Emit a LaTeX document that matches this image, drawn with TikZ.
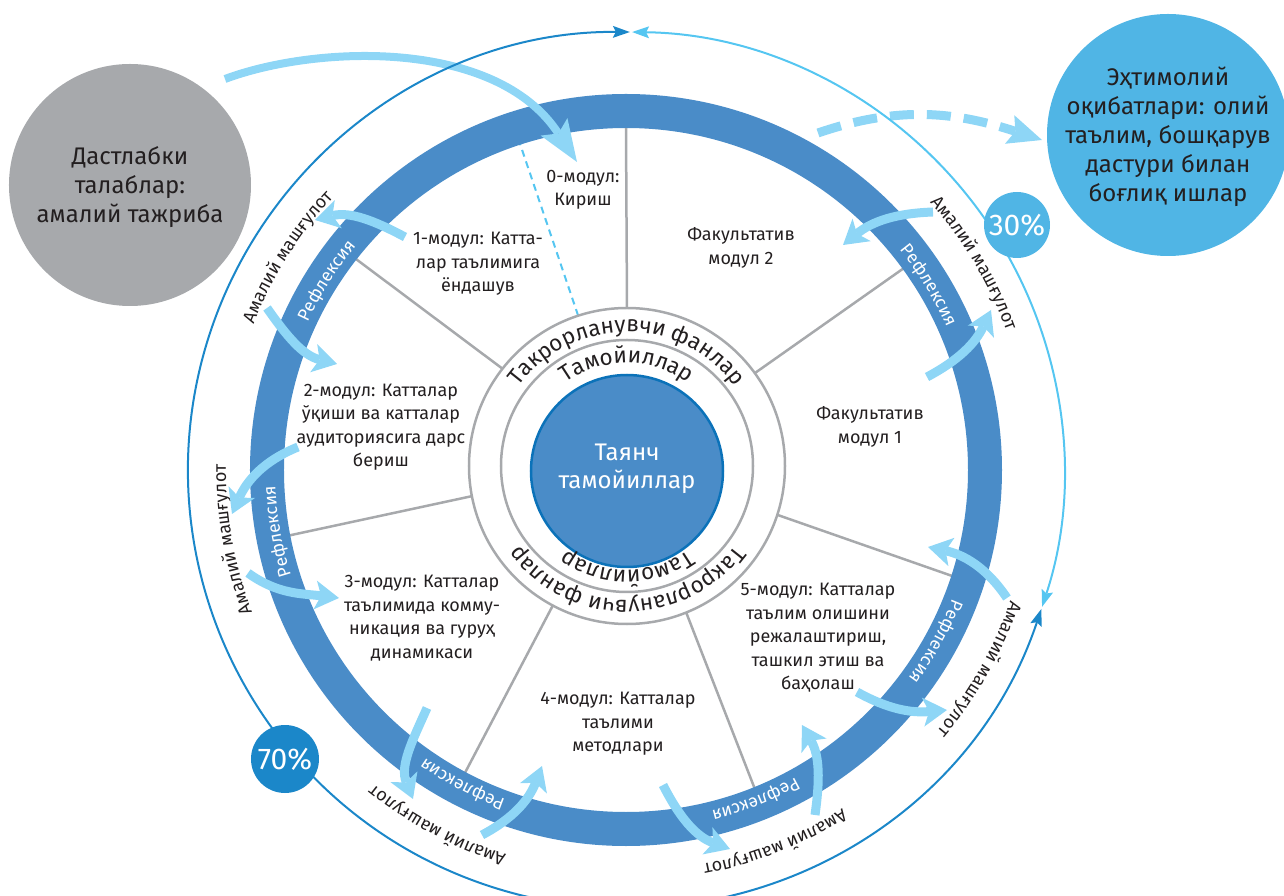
\documentclass[tikz,border=0pt]{standalone}
\usepackage{fontspec}
\setmainfont{Fira Sans}
\usetikzlibrary{arrows.meta,decorations.text,calc}
\definecolor{ringblue}{HTML}{4A8CC8}
\definecolor{coreedge}{HTML}{0B72B9}
\definecolor{darkline}{HTML}{1B87C9}
\definecolor{lightline}{HTML}{55C6F1}
\definecolor{arrowblue}{HTML}{8ED6F6}
\definecolor{bubble}{HTML}{50B5E5}
\definecolor{greyc}{HTML}{A7A9AC}
\definecolor{ink}{HTML}{231F20}
\newcommand\modfont{\fontsize{18}{23.5}\selectfont}
\newcommand\amfont{\fontsize{18}{22}\selectfont\color{ink}}
\newcommand\reffont{\fontsize{17.5}{22}\selectfont\color{white}}
\newcommand\cenfont{\fontsize{22.5}{26}\selectfont\color{ink}}
\begin{document}
\begin{tikzpicture}[x=1pt,y=1pt,
  lbarrow/.style={draw=arrowblue, line width=9pt, -{Stealth[length=24pt,width=29pt,inset=6pt,line width=0pt]}},
  bigarrow/.style={draw=arrowblue, line width=8pt, -{Stealth[length=42pt,width=32pt,inset=8pt,line width=0pt]}},
  dasharrow/.style={draw=arrowblue, line width=9pt, dash pattern=on 24pt off 13pt, -{Stealth[length=34pt,width=30pt,inset=6pt,line width=0pt]}},
  spoke/.style={draw=greyc, line width=2.5pt},
  modtext/.style={font=\modfont, text=ink, align=center, inner sep=0pt},
  thinarrow/.style={line width=2pt, {Stealth[length=17pt,width=12pt,inset=3pt,line width=0pt]}-{Stealth[length=17pt,width=12pt,inset=3pt,line width=0pt]}},
  bigtext/.style={font=\fontsize{24}{29}\selectfont, text=ink, align=center, inner sep=0pt},
  pct/.style={circle, minimum size=#1, inner sep=0pt, text=white, font=\fontsize{30}{32}\selectfont},
]
\useasboundingbox (-626,-426) rectangle (658,470);
\coordinate (O) at (0,0);
\coordinate (G) at (1,4);
% spokes
\foreach \a in {90,142,191,242,292,342,36}
  \draw[spoke] ($(G)+(\a:158pt)$) -- (\a:343pt);
\draw[lightline, line width=2pt, dash pattern=on 7pt off 5pt] ($(G)+(108:158pt)$) -- (108:343pt);
% thick ring
\draw[ringblue, line width=34pt] (O) circle[radius=359pt];
% grey rings and core
\draw[greyc, line width=2.5pt] (G) circle[radius=158pt];
\draw[greyc, line width=2.5pt] (G) circle[radius=126pt];
\draw[coreedge, fill=ringblue, line width=2.5pt] (1,-1) circle[radius=96pt];
\node[font=\fontsize{24}{28}\selectfont, text=white, align=center] (core) at (1,1) {Таянч\\тамойиллар};
\begin{scope}[shift={(G)}]
\path[decorate, decoration={text along path, text={|\cenfont|Такрорланувчи фанлар}, text align=center}] (165:134pt) arc[start angle=165, end angle=15, radius=134pt];
\path[decorate, decoration={text along path, text={|\cenfont|Такрорланувчи фанлар}, text align=center}] (-15:134pt) arc[start angle=-15, end angle=-165, radius=134pt];
\path[decorate, decoration={text along path, text={|\cenfont|Тамойиллар}, text align=center}] (160:103pt) arc[start angle=160, end angle=20, radius=103pt];
\path[decorate, decoration={text along path, text={|\cenfont|Тамойиллар}, text align=center}] (-20:104pt) arc[start angle=-20, end angle=-160, radius=104pt];
\end{scope}
% ring labels
\foreach \a in {147.7,190,242.5,291.5,331,31.4}
  \path[decorate, decoration={text along path, text={|\reffont|Рефлексия}, text align=center}] (\a+30:351pt) arc[start angle=\a+30, end angle=\a-30, radius=351pt];
\foreach \a/\r in {147.8/400,190/400,242/403,291.8/402,330.6/406,30.7/405}
  \path[decorate, decoration={text along path, text={|\amfont|Амалий машғулот}, text align=center}] (\a+30:\r pt) arc[start angle=\a+30, end angle=\a-30, radius=\r pt];
% module texts
\node[modtext] (m0) at (-43,280) {0-модул:\\Кириш};
\node[modtext] (f2) at (115,222) {Факультатив\\модул 2};
\node[modtext] (m1) at (-148,206) {1-модул: Катта-\\лар таълимига\\ёндашув};
\node[modtext] (m2) at (-245,43) {2-модул: Катталар\\ўқиши ва катталар\\аудиториясига дарс\\бериш};
\node[modtext] (f1) at (244,43) {Факультатив\\модул 1};
\node[modtext] (m3) at (-204,-148) {3-модул: Катталар\\таълимида комму-\\никация ва гуруҳ\\динамикаси};
\node[modtext] (m4) at (-8,-254) {4-модул: Катталар\\таълими\\методлари};
\node[modtext] (m5) at (192,-168) {5-модул: Катталар\\таълим олишини\\режалаштириш,\\ташкил этиш ва\\баҳолаш};
% light arrows
\draw[lbarrow] (-221,233) to[out=152,in=14] (-311,250);
\draw[lbarrow] (-359,162) to[out=-55,in=166] (-289,106);
\draw[lbarrow] (-328,23) to[out=202,in=66] (-394,-44);
\draw[lbarrow] (-378,-103) to[out=-36,in=173] (-287,-128);
\draw[lbarrow] (-199,-238) to[out=246,in=112] (-213,-329);
\draw[lbarrow] (-144,-365) to[out=28,in=249] (-84,-296);
\draw[lbarrow] (37,-315) to[out=-63,in=160] (104,-379);
\draw[lbarrow] (189,-345) to[out=82,in=300] (176,-255);
\draw[lbarrow] (231,-222) to[out=-29,in=185] (321,-240);
\draw[lbarrow] (381,-128) to[out=124,in=-12] (302,-77);
\draw[lbarrow] (301,93) to[out=28,in=245] (365,160);
\draw[lbarrow] (307,258) to[out=182,in=39] (217,225);
\draw[bigarrow] (-401,391) .. controls (-310,425) and (-130,432) .. (-49,308);
\draw[dasharrow] (192,337) to[out=19,in=162] (416,330);
% thin outer circle
\draw[thinarrow, darkline] (-18.5:438pt) arc[start angle=-18.5, end angle=-270.5, radius=438pt];
\draw[thinarrow, lightline] (89.2:438pt) arc[start angle=89.2, end angle=-18.2, radius=438pt];
% bubbles
\node[pct=66pt, fill=bubble] (p30) at (391,245) {30\%};
\node[pct=68pt, fill=darkline] (p70) at (-341,-289) {70\%};
\node[circle, fill=greyc, minimum size=242pt, inner sep=0pt] (pre) at (-496,285) {};
\node[bigtext] at (-496,283) {Дастлабки\\талаблар:\\амалий тажриба};
\node[circle, fill=bubble, minimum size=242pt, inner sep=0pt] (post) at (542,335) {};
\node[bigtext] at (542,333) {Эҳтимолий\\оқибатлари: олий\\таълим, бошқарув\\дастури билан\\боғлиқ ишлар};
\end{tikzpicture}
\end{document}
